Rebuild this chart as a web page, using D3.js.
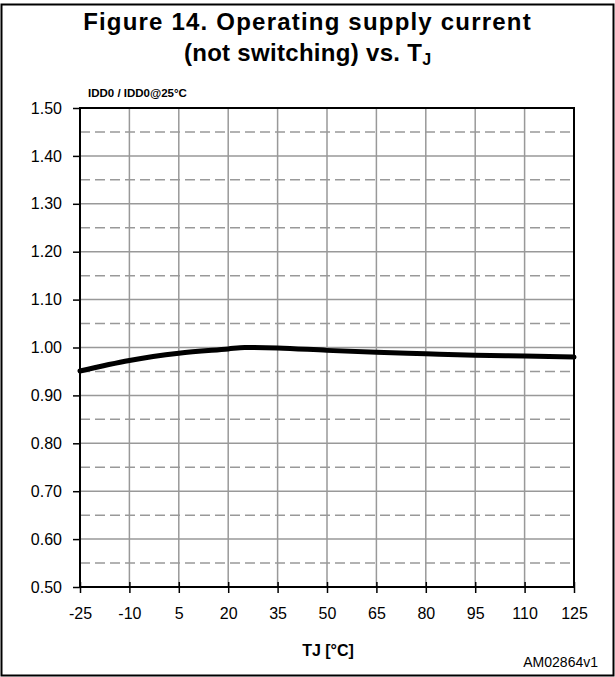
<!DOCTYPE html>
<html>
<head>
<meta charset="utf-8">
<script src="https://cdn.jsdelivr.net/npm/d3@7"></script>
<style>
  body { margin: 0; background: #fff; }
  text { font-family: "Liberation Sans", Arial, sans-serif; }
</style>
</head>
<body>
<div id="chart"></div>
<script>
// data
var tjValues = [-25, -10, 5, 20, 25, 35, 50, 65, 80, 95, 110, 125];
var iddRatio = [0.951, 0.973, 0.988, 0.997, 1.000, 0.999, 0.994, 0.990, 0.987, 0.984, 0.982, 0.980];
var xTicks = [-25, -10, 5, 20, 35, 50, 65, 80, 95, 110, 125];
var yTicks = [0.5, 0.6, 0.7, 0.8, 0.9, 1.0, 1.1, 1.2, 1.3, 1.4, 1.5];
var yMinor = [0.55, 0.65, 0.75, 0.85, 0.95, 1.05, 1.15, 1.25, 1.35, 1.45];

var W = 615, H = 677;
var margin = {left: 80, right: 41, top: 108, bottom: 90};
var width = W - margin.left - margin.right;
var height = H - margin.top - margin.bottom;

var svg = d3.select("#chart").append("svg")
  .attr("width", W)
  .attr("height", H);

// outer frame
svg.append("rect")
  .attr("x", 1.5).attr("y", 4.5)
  .attr("width", W - 3).attr("height", H - 6)
  .attr("fill", "none").attr("stroke", "#000").attr("stroke-width", 2);

// title
var title = svg.append("text")
  .attr("text-anchor", "middle")
  .attr("font-weight", "bold")
  .attr("font-size", 24);
title.append("tspan").attr("x", W / 2).attr("y", 30)
  .attr("letter-spacing", 1.2)
  .text("Figure 14. Operating supply current");
var t2 = svg.append("text")
  .attr("x", W / 2).attr("y", 61)
  .attr("text-anchor", "middle")
  .attr("font-weight", "bold")
  .attr("font-size", 24);
t2.append("tspan").attr("letter-spacing", 0.3).text("(not switching) vs. T");
t2.append("tspan").attr("font-size", 16).attr("dy", 4).text("J");

var x = d3.scaleLinear().domain([-25, 125]).range([0, width]);
var y = d3.scaleLinear().domain([0.5, 1.5]).range([height, 0]);

var g = svg.append("g")
  .attr("transform", "translate(" + margin.left + "," + margin.top + ")");

// grid
g.selectAll(".vgrid").data(xTicks).enter().append("line")
  .attr("x1", d => x(d)).attr("x2", d => x(d))
  .attr("y1", 0).attr("y2", height)
  .attr("stroke", "#999").attr("stroke-width", 1.5);

g.selectAll(".hgrid").data(yTicks).enter().append("line")
  .attr("x1", 0).attr("x2", width)
  .attr("y1", d => y(d)).attr("y2", d => y(d))
  .attr("stroke", "#999").attr("stroke-width", 1.5);

g.selectAll(".hminor").data(yMinor).enter().append("line")
  .attr("x1", 0).attr("x2", width)
  .attr("y1", d => y(d)).attr("y2", d => y(d))
  .attr("stroke", "#999").attr("stroke-width", 1.5)
  .attr("stroke-dasharray", "10,5");

// axes
var xAxis = d3.axisBottom(x).tickValues(xTicks).tickSize(6).tickPadding(15)
  .tickFormat(d => String(d));
var yAxis = d3.axisLeft(y).tickValues(yTicks).tickSize(7).tickPadding(11)
  .tickFormat(d3.format(".2f"));

var gx = g.append("g").attr("transform", "translate(0," + height + ")").call(xAxis);
var gy = g.append("g").call(yAxis);
gx.selectAll(".tick line").attr("y1", -5);
[gx, gy].forEach(function(a) {
  a.select(".domain").remove();
  a.selectAll(".tick line").attr("stroke", "#000").attr("stroke-width", 1.5);
  a.selectAll(".tick text").attr("font-size", 16).attr("fill", "#000")
    .style("font-family", "'Liberation Sans', Arial, sans-serif");
});

// plot frame
g.append("rect")
  .attr("x", 0).attr("y", 0)
  .attr("width", width).attr("height", height)
  .attr("fill", "none").attr("stroke", "#000").attr("stroke-width", 2);

// curve
var line = d3.line()
  .x((d, i) => x(tjValues[i]))
  .y(d => y(d))
  .curve(d3.curveMonotoneX);

g.append("path")
  .datum(iddRatio)
  .attr("fill", "none")
  .attr("stroke", "#000")
  .attr("stroke-width", 5)
  .attr("stroke-linecap", "round")
  .attr("d", line);

// axis titles
svg.append("text")
  .attr("x", 88).attr("y", 97)
  .attr("font-size", 11.5).attr("font-weight", "bold")
  .text("IDD0 / IDD0@25°C");

svg.append("text")
  .attr("x", 328).attr("y", 656)
  .attr("text-anchor", "middle")
  .attr("font-size", 16).attr("font-weight", "bold")
  .text("TJ [°C]");

svg.append("text")
  .attr("x", 598).attr("y", 667)
  .attr("text-anchor", "end")
  .attr("font-size", 14)
  .text("AM02864v1");
</script>
</body>
</html>
